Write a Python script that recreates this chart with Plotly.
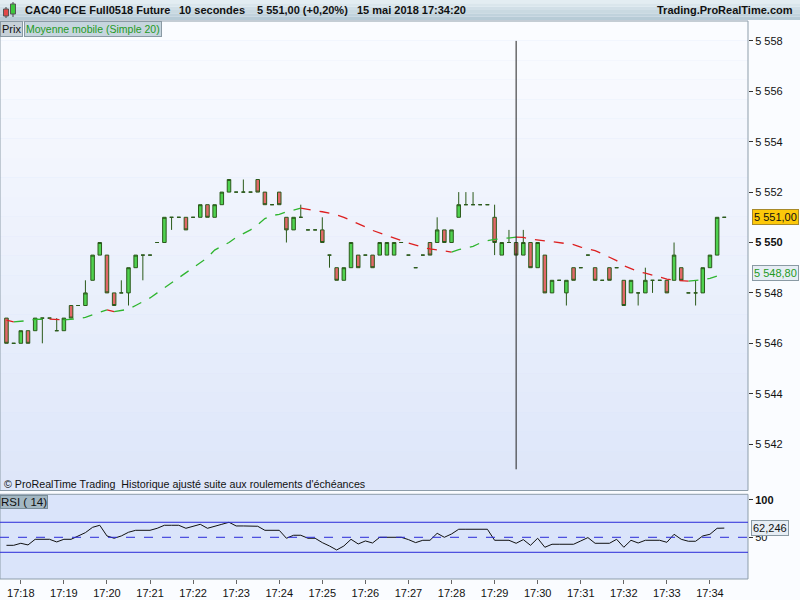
import pandas as pd
import plotly.graph_objects as go

# 10-second bars, CAC40 future, 15 May 2018
times = pd.date_range("2018-05-15 17:17:40", periods=101, freq="10s")

opens = [5547, 5546, 5546, 5546.5, 5546.5, 5547, 5547, 5546.5, 5546.5, 5547.5,
         5547.5, 5547.5, 5548.5, 5549.5, 5549.5, 5548, 5548, 5548, 5549, 5549.5,
         5549.5, 5550, 5550, 5551, 5551, 5551, 5551, 5551, 5551.5, 5551,
         5551.5, 5552, 5552, 5552, 5552, 5552.5, 5552, 5551.5, 5552, 5551,
         5550.5, 5551, 5550.5, 5550.5, 5550.5, 5549.5, 5549, 5548.5, 5549, 5549.5,
         5549.5, 5549.5, 5549.5, 5549.5, 5549.5, 5550, 5549.5, 5549, 5549.5, 5550,
         5550, 5550.5, 5550, 5551, 5551.5, 5551.5, 5551.5, 5551.5, 5551, 5549.5,
         5550, 5550, 5549.5, 5550, 5549, 5549.5, 5548, 5548.5, 5548, 5549,
         5549, 5549.5, 5549, 5548.5, 5549, 5549, 5548.5, 5548, 5548, 5548,
         5548.5, 5548.5, 5548.5, 5548.5, 5549, 5548, 5548, 5548, 5549, 5549.5,
         5551]
highs = [5547, 5546, 5546.5, 5546.5, 5547, 5547, 5547, 5547, 5547, 5547.5,
         5547.5, 5548.5, 5549.5, 5550, 5549.5, 5548, 5548.5, 5549, 5549.5, 5549.5,
         5549.5, 5550, 5551, 5551, 5551, 5551, 5551, 5551.5, 5551.5, 5551.5,
         5552, 5552.5, 5552, 5552.5, 5552, 5552.5, 5552, 5551.5, 5552, 5551,
         5551, 5551.5, 5550.5, 5550.5, 5551, 5549.5, 5549, 5549, 5550, 5549.5,
         5549.5, 5549.5, 5550, 5550, 5550, 5550, 5549.5, 5549, 5549.5, 5550,
         5551, 5550.5, 5550.5, 5552, 5552, 5552, 5551.5, 5551.5, 5551.5, 5550,
         5550.5, 5550, 5550.5, 5550, 5550, 5549.5, 5548.5, 5548.5, 5548.5, 5549,
         5549, 5549.5, 5549, 5548.5, 5549, 5549, 5548.5, 5548.5, 5548, 5549,
         5548.5, 5548.5, 5548.5, 5550, 5549, 5548, 5548.5, 5549, 5549.5, 5551,
         5551]
lows = [5546, 5546, 5546, 5546, 5546.5, 5546, 5547, 5546.5, 5546.5, 5547,
        5547.5, 5547.5, 5548.5, 5549.5, 5548, 5547.5, 5548, 5547.5, 5549, 5548.5,
        5549.5, 5550, 5550, 5550.5, 5551, 5550.5, 5551, 5551, 5551, 5551,
        5551.5, 5552, 5552, 5552, 5552, 5552, 5551.5, 5551.5, 5551.5, 5550,
        5550.5, 5551, 5550.5, 5550.5, 5550, 5549, 5548.5, 5548.5, 5549, 5549,
        5549.5, 5549, 5549.5, 5549.5, 5549.5, 5550, 5549.5, 5549, 5549.5, 5549.5,
        5550, 5550, 5550, 5551, 5551.5, 5551.5, 5551.5, 5551.5, 5549.5, 5549.5,
        5550, 5549.5, 5549.5, 5549, 5549, 5548, 5548, 5548.5, 5547.5, 5548.5,
        5549, 5549.5, 5548.5, 5548.5, 5548.5, 5549, 5547.5, 5548, 5547.5, 5548,
        5548, 5548.5, 5548, 5548.5, 5548.5, 5548, 5547.5, 5548, 5549, 5549.5,
        5551]
closes = [5546, 5546, 5546.5, 5546, 5547, 5547, 5547, 5546.5, 5547, 5547,
          5547.5, 5548, 5549.5, 5550, 5548, 5547.5, 5548, 5549, 5549.5, 5549.5,
          5549.5, 5550, 5551, 5551, 5551, 5550.5, 5551, 5551.5, 5551, 5551.5,
          5552, 5552.5, 5552, 5552, 5552, 5552, 5551.5, 5551.5, 5551.5, 5550.5,
          5551, 5551, 5550.5, 5550.5, 5550, 5549.5, 5548.5, 5549, 5550, 5549,
          5549.5, 5549, 5550, 5550, 5550, 5550, 5549.5, 5549, 5549.5, 5549.5,
          5550.5, 5550, 5550.5, 5551.5, 5551.5, 5551.5, 5551.5, 5551.5, 5550, 5550,
          5550, 5549.5, 5550, 5549, 5550, 5548, 5548.5, 5548.5, 5548.5, 5548.5,
          5549, 5549.5, 5548.5, 5548.5, 5548.5, 5549, 5547.5, 5548.5, 5548, 5548.5,
          5548.5, 5548.5, 5548, 5549.5, 5548.5, 5548, 5548, 5549, 5549.5, 5551,
          5551]

# Moyenne mobile (Simple 20)
ma20 = [5546.92, 5546.85, 5546.87, 5546.9, 5546.95, 5546.95, 5546.96, 5546.94, 5546.93, 5546.95,
        5546.98, 5547.03, 5547.12, 5547.22, 5547.33, 5547.26, 5547.3, 5547.35, 5547.5, 5547.65,
        5547.8, 5548.0, 5548.2, 5548.4, 5548.6, 5548.8, 5549.0, 5549.2, 5549.4, 5549.7,
        5549.85, 5550.0, 5550.2, 5550.35, 5550.5, 5550.7, 5550.95, 5551.07, 5551.12, 5551.22,
        5551.3, 5551.36, 5551.3, 5551.27, 5551.22, 5551.17, 5551.1, 5551.0, 5550.88, 5550.76,
        5550.62, 5550.48, 5550.38, 5550.28, 5550.18, 5550.05, 5549.98, 5549.9, 5549.8, 5549.75,
        5549.7, 5549.64, 5549.62, 5549.72, 5549.78, 5549.85, 5549.98, 5550.07, 5550.12, 5550.15,
        5550.2, 5550.21, 5550.2, 5550.14, 5550.1, 5550.07, 5550.04, 5550.0, 5549.96, 5549.92,
        5549.82, 5549.75, 5549.68, 5549.55, 5549.42, 5549.28, 5549.08, 5548.95, 5548.85, 5548.78,
        5548.7, 5548.62, 5548.55, 5548.5, 5548.48, 5548.47, 5548.48, 5548.52, 5548.58, 5548.67,
        5548.8]

# RSI (14)
rsi14 = [39.3, 39.3, 42, 39.8, 47.3, 47.3, 47.3, 43.8, 47.3, 47.3,
         51.8, 56.2, 63.3, 66, 51.8, 48.7, 51.8, 56.7, 59.3, 59.3,
         59.3, 62, 66, 66, 66, 62, 64.7, 67.3, 62, 65.1,
         67.3, 70, 65.1, 65.1, 65.1, 64.7, 59.3, 59.3, 59.3, 48.7,
         52.7, 52.7, 48.7, 48.7, 42.9, 38.4, 33.1, 38.4, 47.3, 41.1,
         45.1, 42.4, 50, 50, 50, 50, 46.9, 42.9, 46, 46,
         55.3, 50, 54.4, 60.7, 60.7, 60.7, 60.7, 60.7, 46, 46,
         46, 42, 46.9, 39.3, 48.7, 36.7, 40.7, 40.7, 40.7, 40.7,
         45.1, 49.6, 42, 42, 42, 47.3, 36.7, 46, 42.4, 46,
         46, 46, 43.3, 54, 47.3, 44.7, 44.7, 51.8, 54, 62,
         62.246]

price_ticks = [5542, 5544, 5546, 5548, 5550, 5552, 5554, 5556, 5558]
rsi_levels = [30, 50, 70]
cursor_bar = 71

FONT = "Liberation Sans, Arial, sans-serif"
GREEN_UP = "#4fd24f"
RED_DN = "#e26868"
EDGE = "#2b5a1b"
MA_UP = "#2fb52f"
MA_DN = "#dd2020"

W, H = 800, 600
MT, MB, MR = 21, 20, 52


def px(x):
    return x / (W - MR)


def py(y):
    return (H - MB - y) / (H - MT - MB)


def fr(v):
    s = f"{v:,.2f}"
    return s.replace(",", " ").replace(".", ",")


def mix(c1, c2, t):
    a = [int(c1[i:i + 2], 16) for i in (1, 3, 5)]
    b = [int(c2[i:i + 2], 16) for i in (1, 3, 5)]
    return "#" + "".join(f"{round(u + (v - u) * t):02x}" for u, v in zip(a, b))


fig = go.Figure()

fig.add_trace(go.Candlestick(
    x=times, open=opens, high=highs, low=lows, close=closes,
    increasing=dict(fillcolor=GREEN_UP, line=dict(color=EDGE, width=1)),
    decreasing=dict(fillcolor=RED_DN, line=dict(color=EDGE, width=1)),
    whiskerwidth=0, showlegend=False, xaxis="x", yaxis="y",
))

# MA: green while rising, red while falling
runs = []
for i in range(1, len(ma20)):
    up = ma20[i] >= ma20[i - 1]
    if runs and runs[-1][0] == up:
        runs[-1][1].append(i)
    else:
        runs.append([up, [i - 1, i]])
for colour, want in ((MA_UP, True), (MA_DN, False)):
    xs, ys = [], []
    for up, idx in runs:
        if up != want:
            continue
        xs += [times[j] for j in idx] + [None]
        ys += [ma20[j] for j in idx] + [None]
    fig.add_trace(go.Scatter(x=xs, y=ys, mode="lines", showlegend=False,
                             line=dict(color=colour, width=1.3, dash="10px,9px"),
                             connectgaps=False, xaxis="x", yaxis="y"))

fig.add_trace(go.Scatter(x=times, y=rsi14, mode="lines", showlegend=False,
                         line=dict(color="#111111", width=1), xaxis="x2", yaxis="y2"))

shapes = []
# header bar
for i in range(6):
    shapes.append(dict(type="rect", xref="paper", yref="paper", layer="below",
                       x0=0, x1=px(W), y0=py(20 - i * 20 / 6 - 20 / 6), y1=py(20 - i * 20 / 6),
                       fillcolor=mix("#b7cbd6", "#e3edf2", i / 5), line=dict(width=0)))
# header icon
shapes += [
    dict(type="line", xref="paper", yref="paper", x0=px(6), x1=px(6), y0=py(18), y1=py(7),
         line=dict(color="#444", width=1)),
    dict(type="rect", xref="paper", yref="paper", x0=px(3.5), x1=px(8.5), y0=py(16), y1=py(9),
         fillcolor="#e04848", line=dict(color="#555", width=1)),
    dict(type="line", xref="paper", yref="paper", x0=px(13), x1=px(13), y0=py(17), y1=py(2),
         line=dict(color="#444", width=1)),
    dict(type="rect", xref="paper", yref="paper", x0=px(10.5), x1=px(15.5), y0=py(14), y1=py(4),
         fillcolor="#3cc83c", line=dict(color="#555", width=1)),
]
# gradient background of the price panel
n = 24
for i in range(n):
    shapes.append(dict(type="rect", xref="paper", yref="y domain", layer="below",
                       x0=0, x1=1, y0=i / n, y1=(i + 1) / n,
                       fillcolor=mix("#dde6f9", "#fbfcff", (i + 0.5) / n), line=dict(width=0)))
# panel frames
for yd in ("y domain", "y2 domain"):
    shapes.append(dict(type="rect", xref="paper", yref=yd, x0=0, x1=1, y0=0, y1=1,
                       line=dict(color="#8d9daa", width=1), layer="above"))
# RSI levels
for lv in rsi_levels:
    shapes.append(dict(type="line", xref="x2 domain", yref="y2", x0=0, x1=1, y0=lv, y1=lv,
                       line=dict(color="#2a2ad8", width=1, dash="dash" if lv == 50 else "solid")))
# cursor line
shapes.append(dict(type="line", xref="x", yref="y", x0=times[cursor_bar], x1=times[cursor_bar],
                   y0=5541, y1=5558, line=dict(color="#222222", width=1)))

hdr = dict(xref="paper", yref="paper", y=py(10), yanchor="middle", showarrow=False,
           font=dict(family=FONT, size=11, color="#111"))
annotations = [
    dict(hdr, x=px(23), xanchor="left", text="<b>CAC40 FCE Full0518 Future</b>"),
    dict(hdr, x=px(177), xanchor="left", text="<b>10 secondes</b>"),
    dict(hdr, x=px(255), xanchor="left", text="<b>5 551,00 (+0,20%)</b>"),
    dict(hdr, x=px(355), xanchor="left", text="<b>15 mai 2018 17:34:20</b>"),
    dict(hdr, x=px(795), xanchor="right", text="<b>Trading.ProRealTime.com</b>"),
    dict(xref="paper", yref="paper", x=px(0), y=py(21), xanchor="left", yanchor="top",
         showarrow=False, text="Prix", bgcolor="#c7d1d8", bordercolor="#8a9aa4",
         borderwidth=1, borderpad=1, font=dict(family=FONT, size=11, color="#111")),
    dict(xref="paper", yref="paper", x=px(24), y=py(21), xanchor="left", yanchor="top",
         showarrow=False, text="Moyenne mobile (Simple 20)", bgcolor="#c6d5de",
         bordercolor="#8a9aa4", borderwidth=1, borderpad=1,
         font=dict(family=FONT, size=10.5, color="#1f9a1f")),
    dict(xref="paper", yref="paper", x=px(2), y=py(484), xanchor="left", yanchor="middle",
         showarrow=False, text="© ProRealTime Trading  Historique ajusté suite aux roulements d'échéances",
         font=dict(family=FONT, size=10.7, color="#111")),
    dict(xref="paper", yref="paper", x=px(0), y=py(494.5), xanchor="left", yanchor="top",
         showarrow=False, text="RSI ( 14)", bgcolor="#a3b7c3", bordercolor="#7a8e9a",
         borderwidth=1, borderpad=0, font=dict(family=FONT, size=11.5, color="#111")),
    dict(xref="paper", yref="y", x=px(752), y=closes[-1], xanchor="left", yanchor="middle",
         showarrow=False, text=fr(closes[-1]), bgcolor="#fcc80a", bordercolor="#a88a2a",
         borderwidth=1, borderpad=1, font=dict(family=FONT, size=11, color="#111")),
    dict(xref="paper", yref="y", x=px(752), y=ma20[-1], xanchor="left", yanchor="middle",
         showarrow=False, text=fr(ma20[-1]), bgcolor="#e6edf4", bordercolor="#8a9aa4",
         borderwidth=1, borderpad=1, font=dict(family=FONT, size=11, color="#1f9a1f")),
    dict(xref="paper", yref="y2", x=px(751), y=rsi14[-1], xanchor="left", yanchor="middle",
         showarrow=False, text=f"{rsi14[-1]:.3f}".replace(".", ","), bgcolor="#e6edf4",
         bordercolor="#8a9aa4", borderwidth=1, borderpad=1,
         font=dict(family=FONT, size=11, color="#111")),
]

x_range = ["2018-05-15 17:17:31", "2018-05-15 17:34:53"]
top_price = 5550 + (242.5 - 21) / 25.2
bottom_price = 5550 - (490.5 - 242.5) / 25.2

fig.update_layout(
    width=W, height=H,
    margin=dict(l=0, r=MR, t=MT, b=MB),
    paper_bgcolor="#fafcff",
    plot_bgcolor="#dae4fa",
    font=dict(family=FONT, size=11, color="#111"),
    showlegend=False,
    hovermode=False,
    shapes=shapes,
    annotations=annotations,
    xaxis=dict(domain=[0, 1], range=x_range, anchor="y", showticklabels=False,
               showgrid=False, zeroline=False, rangeslider=dict(visible=False), ticks=""),
    yaxis=dict(domain=[py(490.5), 1], range=[bottom_price, top_price], side="right",
               anchor="x", showgrid=False, zeroline=False, tickvals=price_ticks,
               ticktext=[f"<b>{fr(v)[:-3]}</b>" if v == 5550 else fr(v)[:-3] for v in price_ticks],
               ticks="outside", ticklen=4, tickcolor="#333", tickfont=dict(size=11)),
    xaxis2=dict(domain=[0, 1], range=x_range, anchor="y2", matches="x", showgrid=False,
                zeroline=False, tickformat="%H:%M", dtick=60000, tick0="2018-05-15 17:18:00",
                ticks="outside", ticklen=4, tickcolor="#666", tickfont=dict(size=11)),
    yaxis2=dict(domain=[py(579), py(494.3)], range=[-5.6, 107.3], side="right", anchor="x2",
                showgrid=False, zeroline=False, tickvals=[50, 100], ticktext=["50", "<b>100</b>"],
                ticks="outside", ticklen=4, tickcolor="#333", tickfont=dict(size=11)),
)

# the page's default body margin would shift the 800x600 figure
fig.write_html("out.html", config={"displayModeBar": False},
               post_script="document.body.style.margin = '0';")
